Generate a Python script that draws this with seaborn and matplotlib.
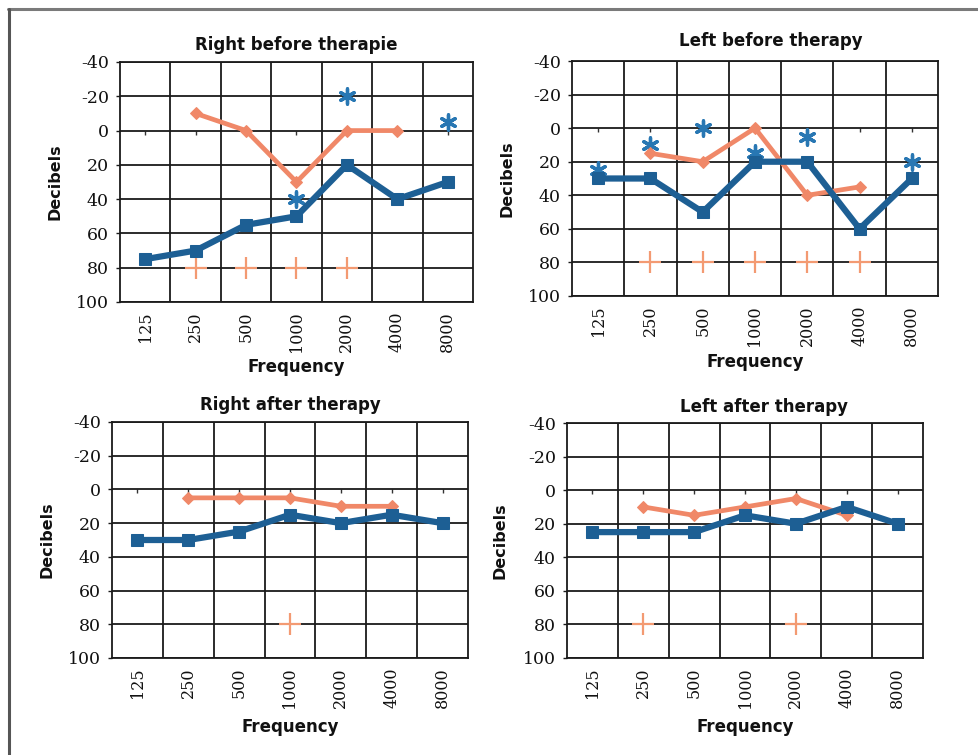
import numpy as np
import pandas as pd
import matplotlib
matplotlib.use("Agg")
import matplotlib.pyplot as plt
import seaborn as sns
from matplotlib.lines import Line2D

# ---- data -------------------------------------------------------------
FREQS = ["125", "250", "500", "1000", "2000", "4000", "8000"]
DB_TICKS = [-40, -20, 0, 20, 40, 60, 80, 100]
nan = np.nan

TITLES = ["Right before therapie", "Left before therapy",
          "Right after therapy", "Left after therapy"]

# air-conduction thresholds (blue squares)
right_before_air = [75, 70, 55, 50, 20, 40, 30]
left_before_air = [30, 30, 50, 20, 20, 60, 30]
right_after_air = [30, 30, 25, 15, 20, 15, 20]
left_after_air = [25, 25, 25, 15, 20, 10, 20]

# bone-conduction thresholds (orange diamonds)
right_before_bone = [nan, -10, 0, 30, 0, 0, nan]
left_before_bone = [nan, 15, 20, 0, 40, 35, nan]
right_after_bone = [nan, 5, 5, 5, 10, 10, nan]
left_after_bone = [nan, 10, 15, 10, 5, 15, nan]

# blue asterisk markers
right_before_star = [nan, nan, nan, 40, -20, nan, -5]
left_before_star = [25, 10, 0, 15, 5, nan, 20]
right_after_star = [nan] * 7
left_after_star = [nan] * 7

# orange cross markers
right_before_cross = [nan, 80, 80, 80, 80, nan, nan]
left_before_cross = [nan, 80, 80, 80, 80, 80, nan]
right_after_cross = [nan, nan, nan, 80, nan, nan, nan]
left_after_cross = [nan, 80, nan, nan, 80, nan, nan]

AIR = [right_before_air, left_before_air, right_after_air, left_after_air]
BONE = [right_before_bone, left_before_bone, right_after_bone, left_after_bone]
STAR = [right_before_star, left_before_star, right_after_star, left_after_star]
CROSS = [right_before_cross, left_before_cross, right_after_cross, left_after_cross]

# ---- styling ----------------------------------------------------------
BLUE = "#1d5f94"
STAR_BLUE = "#2877b3"
ORANGE = "#f08868"
CROSS_ORANGE = "#f39a72"
GRID = "#1a1a1a"

W, H = 979, 755
# axes boxes in pixels: left, top, right, bottom
BOXES = [(120, 62, 473, 302), (572, 61, 938, 296),
         (112, 422, 468, 658), (567, 423, 923, 658)]
TITLE_X = [0.5, 0.544, 0.5, 0.553]
TITLE_PAD = [8.5, 11.0, 8.5, 8.0]
YLAB_X = [-0.184, -0.178, -0.183, -0.188]
XLAB_Y = [-0.271, -0.281, -0.292, -0.294]

sns.set_style("white")
plt.rcParams["axes.unicode_minus"] = False

fig = plt.figure(figsize=(W / 100, H / 100), dpi=100)
fig.patch.set_facecolor("white")

for i in range(4):
    l, t, r, b = BOXES[i]
    ax = fig.add_axes([l / W, 1 - b / H, (r - l) / W, (b - t) / H])
    pos = np.arange(len(FREQS))
    df = pd.DataFrame({"pos": pos, "air": AIR[i], "bone": BONE[i],
                       "star": STAR[i], "cross": CROSS[i]})

    stars = df.dropna(subset=["star"])
    if len(stars):
        sns.scatterplot(data=stars, x="pos", y="star", ax=ax, marker=(6, 2, 0),
                        s=120, color=STAR_BLUE, linewidth=2.4, zorder=3,
                        legend=False)
    crosses = df.dropna(subset=["cross"])
    if len(crosses):
        sns.scatterplot(data=crosses, x="pos", y="cross", ax=ax, marker="+",
                        s=230, color=CROSS_ORANGE, linewidth=1.6, zorder=3,
                        legend=False)
    sns.lineplot(data=df.dropna(subset=["bone"]), x="pos", y="bone", ax=ax,
                 color=ORANGE, linewidth=3.4, marker="D", markersize=6,
                 markeredgecolor=ORANGE, zorder=4)
    sns.lineplot(data=df, x="pos", y="air", ax=ax, color=BLUE, linewidth=4.5,
                 marker="s", markersize=8, markeredgecolor=BLUE, zorder=5)

    ax.set_xlim(-0.5, len(FREQS) - 0.5)
    ax.set_ylim(100, -40)
    ax.set_yticks(DB_TICKS)
    ax.set_yticklabels([str(v) for v in DB_TICKS], family="DejaVu Serif",
                       fontsize=12.5, color="#111111")
    ax.set_xticks(pos)
    ax.set_xticklabels(FREQS, rotation=90, family="DejaVu Serif",
                       fontsize=11.5, color="#111111")
    ax.set_xticks(pos[:-1] + 0.5, minor=True)
    ax.tick_params(axis="x", which="both", length=0, pad=7)
    ax.tick_params(axis="y", which="major", length=3, width=1.0,
                   color=GRID, pad=5, left=True, direction="out")
    ax.grid(True, which="major", axis="y", color=GRID, linewidth=1.3)
    ax.grid(True, which="minor", axis="x", color=GRID, linewidth=1.3)
    ax.grid(False, which="major", axis="x")
    for sp in ax.spines.values():
        sp.set_visible(True)
        sp.set_color(GRID)
        sp.set_linewidth(1.3)

    # category axis crossing at 0 dB with small tick marks
    zero_frac = (0 - 100) / (-40 - 100)
    sec = ax.secondary_xaxis(zero_frac)
    sec.set_xticks(pos)
    sec.tick_params(axis="x", direction="in", length=3, width=1.0,
                    color="#333333", labelbottom=False, labeltop=False)
    sec.spines["bottom"].set_visible(False)
    sec.spines["top"].set_visible(False)

    ax.set_title(TITLES[i], fontsize=12, fontweight="bold",
                 family="DejaVu Sans", x=TITLE_X[i], pad=TITLE_PAD[i],
                 color="#111111")
    ax.set_ylabel("Decibels", fontsize=11.5, fontweight="bold",
                  family="DejaVu Sans", color="#111111")
    ax.set_xlabel("Frequency", fontsize=12, fontweight="bold",
                  family="DejaVu Sans", color="#111111")
    ax.yaxis.set_label_coords(YLAB_X[i], 0.5)
    ax.yaxis.label.set_va("center")
    ax.xaxis.set_label_coords(0.5, XLAB_Y[i])
    ax.xaxis.label.set_va("center")

# outer frame (top and left edges)
fig.add_artist(Line2D([8 / W, 1], [1 - 9 / H, 1 - 9 / H],
                      transform=fig.transFigure, color="#7a7a7a", lw=2.2))
fig.add_artist(Line2D([9 / W, 9 / W], [0, 1 - 9 / H],
                      transform=fig.transFigure, color="#555555", lw=2.2))

fig.savefig("out.png", dpi=100, facecolor="white")
